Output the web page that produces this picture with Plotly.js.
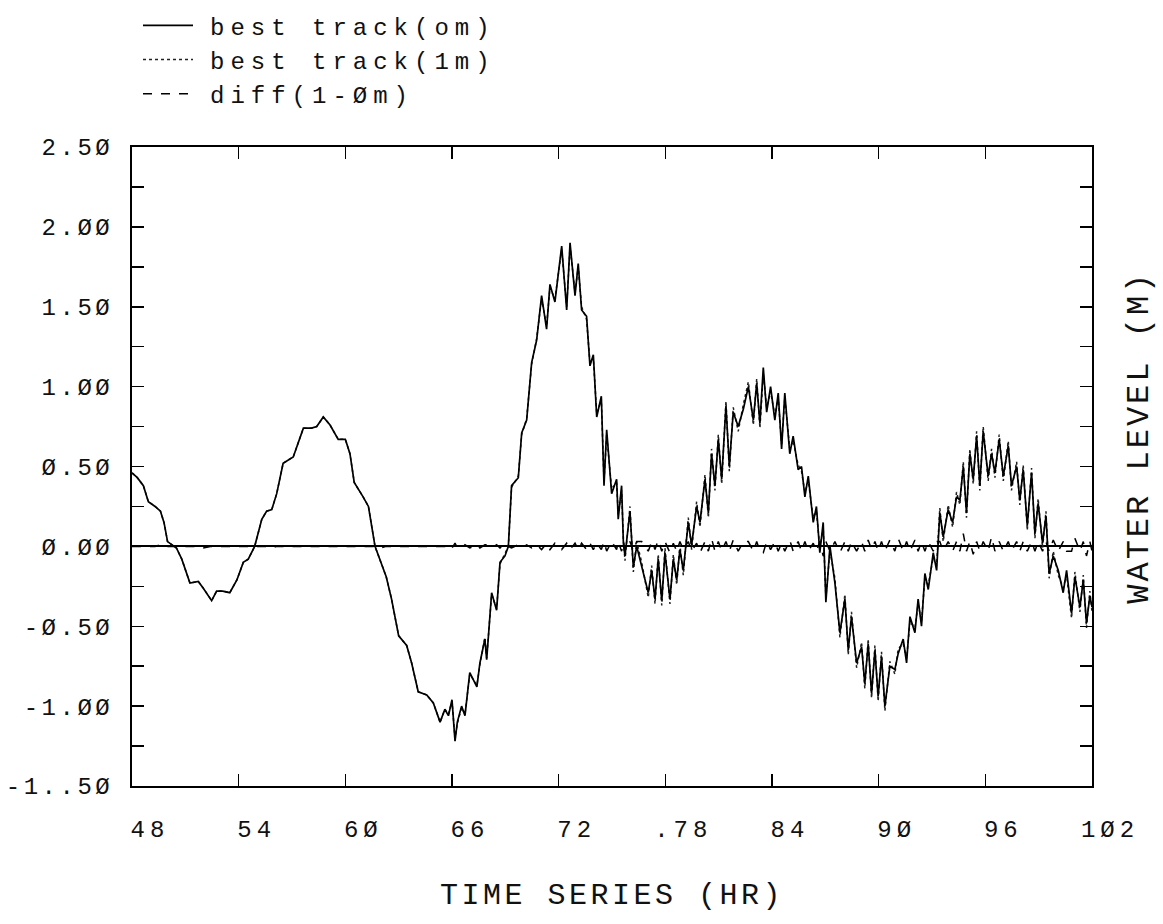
<!DOCTYPE html>
<html>
<head>
<meta charset="utf-8">
<script src="https://cdn.plot.ly/plotly-3.0.1.min.js"></script>
<style>
  html, body { margin: 0; padding: 0; background: #fff; }
  #chart { width: 1163px; height: 924px; }
  .xtick text { letter-spacing: 5px; }
  .ytick text { letter-spacing: 3.5px; }
  .legendtext { letter-spacing: 6px; transform: translateX(12px); }
  .xtitle { letter-spacing: 3.5px; }
  .annotation-text { letter-spacing: 3px; }
</style>
</head>
<body>
<div id="chart"></div>
<script>
// time (hr)
const timeHr = [
  48.0,48.3,48.64,48.92,49.3,49.6,49.8,50.0,50.5,50.8,
  51.26,51.73,52.0,52.48,52.76,53.1,53.5,53.9,54.26,54.54,
  54.9,55.3,55.57,55.86,56.14,56.5,57.07,57.64,58.1,58.39,
  58.76,59.14,59.6,60.0,60.26,60.5,61.0,61.3,61.67,61.95,
  62.3,62.6,63.0,63.45,63.73,64.1,64.58,64.95,65.33,65.6,
  65.8,66.0,66.17,66.3,66.54,66.73,67.0,67.4,67.57,67.85,
  67.95,68.23,68.51,68.7,68.98,69.17,69.35,69.73,69.92,70.2,
  70.48,70.76,71.04,71.32,71.51,71.79,72.17,72.45,72.64,72.92,
  73.1,73.29,73.57,73.76,73.95,74.14,74.4,74.55,74.7,74.98,
  75.26,75.35,75.54,75.64,75.73,76.01,76.2,76.39,76.67,77.04,
  77.23,77.42,77.6,77.8,77.98,78.26,78.45,78.64,78.82,79.01,
  79.29,79.48,79.76,79.95,80.23,80.42,80.6,80.79,80.98,81.17,
  81.41,81.6,81.82,82.1,82.39,82.67,82.95,83.14,83.32,83.51,
  83.7,83.92,84.16,84.35,84.54,84.72,85.0,85.19,85.47,85.66,
  85.85,86.04,86.32,86.5,86.69,86.88,87.03,87.26,87.54,87.82,
  88.1,88.29,88.47,88.76,89.04,89.22,89.41,89.6,89.79,89.97,
  90.16,90.35,90.63,90.91,91.1,91.38,91.57,91.76,92.04,92.22,
  92.41,92.6,92.79,93.07,93.26,93.44,93.63,93.91,94.16,94.38,
  94.57,94.76,94.94,95.13,95.32,95.51,95.69,95.88,96.16,96.35,
  96.54,96.78,97.01,97.29,97.47,97.76,97.94,98.13,98.36,98.6,
  98.79,98.97,99.22,99.41,99.59,99.82,100.1,100.38,100.57,100.85,
  101.04,101.32,101.51,101.69,101.88,102.0
];

// best track (om) water level (m)
const bestTrack0m = [
  0.46,0.43,0.38,0.28,0.25,0.22,0.15,0.03,-0.01,-0.08,
  -0.23,-0.22,-0.26,-0.34,-0.28,-0.28,-0.29,-0.21,-0.10,-0.08,
  0.0,0.17,0.22,0.23,0.33,0.52,0.56,0.74,0.74,0.75,
  0.81,0.76,0.67,0.67,0.58,0.40,0.31,0.25,0.0,-0.08,
  -0.19,-0.33,-0.56,-0.62,-0.73,-0.91,-0.93,-0.98,-1.10,-1.02,
  -1.06,-0.96,-1.22,-1.10,-1.0,-1.06,-0.79,-0.88,-0.73,-0.58,
  -0.71,-0.29,-0.40,-0.10,-0.06,0.0,0.38,0.43,0.71,0.79,
  1.15,1.29,1.57,1.36,1.64,1.53,1.88,1.48,1.90,1.57,
  1.77,1.48,1.44,1.13,1.20,0.81,0.94,0.38,0.73,0.33,
  0.42,0.17,0.38,0.02,-0.06,0.22,-0.13,0.0,-0.13,-0.29,
  -0.15,-0.33,-0.08,-0.34,-0.04,-0.33,-0.08,-0.21,-0.02,-0.15,
  0.15,0.01,0.25,0.15,0.42,0.21,0.58,0.38,0.67,0.42,
  0.88,0.50,0.84,0.75,0.86,1.00,0.79,1.02,0.77,1.12,
  0.84,1.00,0.79,0.96,0.61,0.96,0.58,0.69,0.48,0.50,
  0.31,0.44,0.15,0.25,-0.04,0.15,-0.35,0.0,-0.23,-0.54,
  -0.33,-0.65,-0.44,-0.73,-0.63,-0.86,-0.61,-0.92,-0.65,-0.94,
  -0.69,-1.00,-0.75,-0.77,-0.67,-0.58,-0.73,-0.44,-0.54,-0.33,
  -0.50,-0.17,-0.27,-0.04,-0.15,0.21,0.06,0.23,0.15,0.31,
  0.29,0.50,0.21,0.58,0.42,0.69,0.38,0.72,0.44,0.58,
  0.46,0.67,0.44,0.63,0.38,0.50,0.29,0.48,0.13,0.46,
  0.08,0.27,0.02,0.19,-0.17,-0.06,-0.15,-0.29,-0.15,-0.42,
  -0.19,-0.38,-0.21,-0.48,-0.31,-0.38
];

// best track (1m) water level (m)
const bestTrack1m = [
  0.46,0.43,0.38,0.28,0.25,0.22,0.15,0.03,-0.01,-0.08,
  -0.23,-0.22,-0.26,-0.34,-0.28,-0.28,-0.29,-0.21,-0.10,-0.08,
  0.0,0.17,0.22,0.23,0.33,0.52,0.56,0.74,0.74,0.75,
  0.81,0.76,0.67,0.67,0.58,0.40,0.31,0.25,0.0,-0.08,
  -0.19,-0.33,-0.56,-0.62,-0.73,-0.91,-0.93,-0.98,-1.10,-1.02,
  -1.05,-0.97,-1.20,-1.11,-1.01,-1.05,-0.80,-0.87,-0.74,-0.57,
  -0.70,-0.30,-0.39,-0.11,-0.05,0.0,0.37,0.44,0.70,0.80,
  1.14,1.30,1.55,1.38,1.62,1.55,1.86,1.50,1.88,1.59,
  1.75,1.50,1.42,1.15,1.18,0.83,0.92,0.41,0.70,0.36,
  0.40,0.20,0.35,0.05,-0.09,0.25,-0.16,0.03,-0.10,-0.32,
  -0.12,-0.36,-0.05,-0.37,-0.01,-0.36,-0.05,-0.24,0.01,-0.18,
  0.18,-0.02,0.28,0.12,0.45,0.18,0.61,0.35,0.70,0.39,
  0.91,0.47,0.87,0.72,0.89,1.03,0.76,1.05,0.74,1.08,
  0.87,0.97,0.82,0.93,0.64,0.93,0.61,0.66,0.51,0.47,
  0.34,0.41,0.18,0.22,-0.01,0.12,-0.32,-0.03,-0.20,-0.57,
  -0.30,-0.68,-0.41,-0.76,-0.60,-0.89,-0.58,-0.95,-0.62,-0.97,
  -0.66,-1.03,-0.72,-0.80,-0.64,-0.61,-0.70,-0.47,-0.51,-0.36,
  -0.47,-0.20,-0.24,-0.07,-0.12,0.24,0.03,0.26,0.12,0.34,
  0.26,0.53,0.18,0.61,0.39,0.72,0.35,0.75,0.41,0.61,
  0.43,0.70,0.41,0.66,0.35,0.53,0.26,0.51,0.10,0.49,
  0.05,0.30,-0.01,0.22,-0.20,-0.03,-0.18,-0.26,-0.18,-0.45,
  -0.16,-0.41,-0.18,-0.51,-0.28,-0.41
];

// diff (1 - 0m) (m)
const diff1m0m = [
  0.0,0.0,0.0,0.0,0.0,0.01,0.0,0.0,0.0,0.0,
  0.0,0.0,-0.01,0.0,0.0,0.0,0.0,0.0,0.0,0.0,
  0.0,0.0,0.0,-0.01,0.0,0.0,0.0,0.0,0.0,0.0,
  0.0,0.0,0.0,0.0,0.0,0.0,0.0,0.0,0.0,-0.01,
  0.0,0.0,0.0,0.0,0.0,0.0,0.0,0.0,0.0,0.0,
  0.01,-0.01,0.02,-0.01,-0.01,0.01,-0.01,0.01,-0.01,0.01,
  0.01,-0.01,0.01,-0.01,0.01,0.0,-0.01,0.01,-0.01,0.01,
  -0.01,0.01,-0.02,0.02,-0.02,0.02,-0.02,0.02,-0.02,0.02,
  -0.02,0.02,-0.02,0.02,-0.02,0.02,-0.02,0.03,-0.03,0.03,
  -0.02,0.03,-0.03,0.03,-0.03,0.03,-0.03,0.03,0.03,-0.03,
  0.03,-0.02,0.04,-0.03,0.03,-0.04,0.02,-0.03,0.03,-0.02,
  0.03,-0.03,0.02,-0.04,0.03,-0.03,0.05,-0.03,0.03,-0.03,
  0.03,-0.03,0.04,-0.03,0.03,0.03,-0.03,0.03,-0.03,-0.04,
  0.03,-0.02,0.03,-0.03,0.02,-0.03,0.04,-0.03,0.03,-0.03,
  0.03,-0.03,0.02,-0.03,0.03,-0.06,0.03,-0.03,0.03,-0.04,
  0.03,-0.03,0.03,-0.03,0.03,-0.03,0.04,-0.02,0.03,-0.03,
  0.03,-0.03,0.04,-0.03,0.05,-0.03,0.03,-0.03,0.04,-0.03,
  0.03,-0.03,0.03,-0.03,0.03,0.03,-0.03,0.03,-0.03,0.03,
  -0.03,0.08,-0.03,0.03,-0.05,0.03,-0.03,0.03,-0.03,0.06,
  -0.03,0.03,-0.03,0.03,-0.03,0.03,-0.03,0.03,-0.03,0.03,
  -0.03,0.03,-0.03,0.03,-0.03,0.04,-0.03,0.03,-0.03,-0.03,
  0.05,-0.03,0.03,-0.06,0.03,-0.03
];

const xTickVals = [48,54,60,66,72,78,84,90,96,102];
const xTickText = ['48','54','6Ø','66','72','.78','84','9Ø','96','1Ø2'];
const yTickVals = [-1.5,-1.0,-0.5,0.0,0.5,1.0,1.5,2.0,2.5];
const yTickText = ['-1..5Ø','-1.ØØ','-Ø.5Ø','Ø.ØØ','Ø.5Ø','1.ØØ','1.5Ø','2.ØØ','2.5Ø'];
const yMinorVals = [-1.25,-0.75,-0.25,0.25,0.75,1.25,1.75,2.25];
const xTitle = 'TIME SERIES (HR)';
const yTitle = 'WATER LEVEL (M)';

const FONT = 'Liberation Mono, DejaVu Sans Mono, monospace';

const traces = [
  { x: timeHr, y: bestTrack1m, type: 'scatter', mode: 'lines', name: 'best track(1m)',
    legendrank: 2, line: { color: '#222', width: 1.5, dash: 'dot' } },
  { x: timeHr, y: diff1m0m, type: 'scatter', mode: 'lines', name: 'diff(1-Øm)',
    legendrank: 3, line: { color: '#000', width: 1.5, dash: 'dash' } },
  { x: timeHr, y: bestTrack0m, type: 'scatter', mode: 'lines', name: 'best track(om)',
    legendrank: 1, line: { color: '#000', width: 1.7 } }
];

const layout = {
  width: 1163, height: 924,
  margin: { l: 132, r: 71, t: 147, b: 138, autoexpand: false },
  paper_bgcolor: '#fff', plot_bgcolor: '#fff',
  font: { family: FONT, color: '#111' },
  showlegend: true,
  legend: {
    x: 0.00625, y: 1.225, xanchor: 'left', yanchor: 'top',
    bgcolor: 'rgba(0,0,0,0)', borderwidth: 0,
    font: { family: FONT, size: 24, color: '#111' },
    itemwidth: 50, traceorder: 'normal', tracegroupgap: 0
  },
  xaxis: {
    range: [48, 102], tickmode: 'array', tickvals: xTickVals, ticktext: xTickText,
    ticks: 'inside', ticklen: 12, tickwidth: 1.5, tickcolor: '#000',
    showline: true, linewidth: 2, linecolor: '#000', mirror: 'ticks',
    showgrid: false, zeroline: false,
    tickfont: { family: FONT, size: 24, color: '#111' },
    ticklabelstandoff: 20, ticklabelshift: 18,
    title: { text: xTitle, font: { family: FONT, size: 30, color: '#111' }, standoff: 40 }
  },
  yaxis: {
    range: [-1.5, 2.5], tickmode: 'array', tickvals: yTickVals, ticktext: yTickText,
    ticks: 'inside', ticklen: 12, tickwidth: 1.5, tickcolor: '#000',
    minor: { tickmode: 'array', tickvals: yMinorVals, ticks: 'inside', ticklen: 12, tickwidth: 1.5, tickcolor: '#000', showgrid: false },
    showline: true, linewidth: 2, linecolor: '#000', mirror: 'ticks',
    showgrid: false, zeroline: true, zerolinecolor: '#000', zerolinewidth: 2,
    tickfont: { family: FONT, size: 24, color: '#111' },
    ticklabelstandoff: 12
  },
  annotations: [
    { text: yTitle, xref: 'paper', yref: 'paper', x: 1.05, y: 0.545,
      xanchor: 'center', yanchor: 'middle', textangle: -90, showarrow: false,
      font: { family: FONT, size: 32, color: '#111' } }
  ]
};

Plotly.newPlot('chart', traces, layout, { displayModeBar: false, staticPlot: true });
</script>
</body>
</html>
